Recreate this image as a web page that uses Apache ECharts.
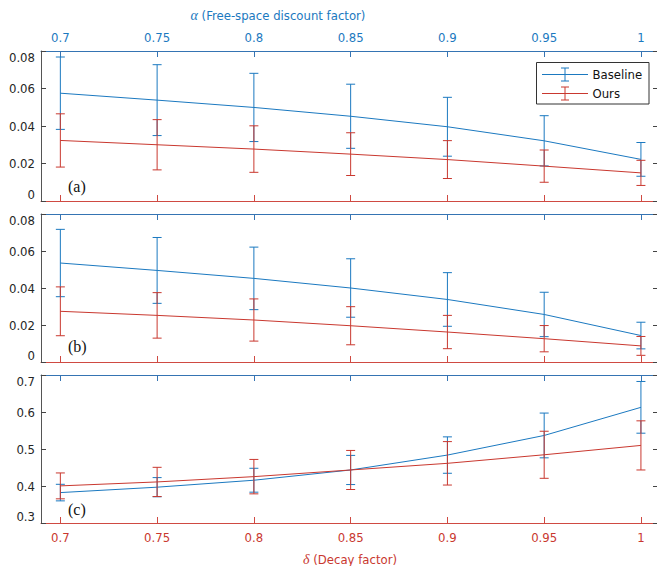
<!DOCTYPE html>
<html>
<head>
<meta charset="utf-8">
<script src="https://cdn.jsdelivr.net/npm/echarts@6/dist/echarts.min.js"></script>
<style>html,body{margin:0;padding:0;background:#fff}#c{width:657px;height:566px}</style>
</head>
<body>
<div id="c"></div>
<script>
// ---- data ----
var xValues = [0.7, 0.75, 0.8, 0.85, 0.9, 0.95, 1.0];
var xTicks = [0.7, 0.75, 0.8, 0.85, 0.9, 0.95, 1.0];
var seriesNames = ['Baseline', 'Ours'];
var panelLabels = ['(a)', '(b)', '(c)'];
var topTitle = '\u03b1 (Free-space discount factor)';
var bottomTitle = '\u03b4 (Decay factor)';

// panel (a)
var aBaseMean = [0.0575, 0.0538, 0.0499, 0.0452, 0.0396, 0.0321, 0.0222];
var aBaseErr  = [0.0193, 0.0189, 0.0182, 0.0171, 0.0157, 0.0134, 0.0090];
var aOursMean = [0.0323, 0.0300, 0.0277, 0.0250, 0.0221, 0.0186, 0.0150];
var aOursErr  = [0.0142, 0.0134, 0.0124, 0.0114, 0.0101, 0.0086, 0.0067];
// panel (b)
var bBaseMean = [0.0535, 0.0495, 0.0452, 0.0400, 0.0338, 0.0257, 0.0143];
var bBaseErr  = [0.0182, 0.0178, 0.0169, 0.0158, 0.0145, 0.0120, 0.0072];
var bOursMean = [0.0274, 0.0252, 0.0227, 0.0196, 0.0162, 0.0126, 0.0087];
var bOursErr  = [0.0132, 0.0123, 0.0114, 0.0103, 0.0090, 0.0071, 0.0051];
// panel (c)
var cBaseMean = [0.3822, 0.3968, 0.4156, 0.4433, 0.4836, 0.5366, 0.6126];
var cBaseErr  = [0.0224, 0.0259, 0.0323, 0.0394, 0.0492, 0.0605, 0.0699];
var cOursMean = [0.4003, 0.4110, 0.4253, 0.4433, 0.4613, 0.4844, 0.5097];
var cOursErr  = [0.0350, 0.0395, 0.0465, 0.0528, 0.0587, 0.0636, 0.0664];

var yMins = [0, 0, 0.3];
var yMaxs = [0.08, 0.08, 0.7];
var yIntervals = [0.02, 0.02, 0.1];

// ---- styling ----
var BLUE = '#1b79c0';
var RED = '#c9382f';
var AXBLUE = '#3574b3';
var AXRED = '#cf4a42';
var FONT = "'Liberation Sans Narrow','Arial Narrow','DejaVu Sans Condensed',sans-serif";
var SERIF = "'Liberation Serif','Times New Roman',serif";
var FS = 13;

var panels = [
  {base: aBaseMean, baseErr: aBaseErr, ours: aOursMean, oursErr: aOursErr},
  {base: bBaseMean, baseErr: bBaseErr, ours: bOursMean, oursErr: bOursErr},
  {base: cBaseMean, baseErr: cBaseErr, ours: cOursMean, oursErr: cOursErr}
];
var gridDefs = [
  {left: 41, right: 0, top: 51, height: 150},
  {left: 41, right: 0, top: 214, height: 148},
  {left: 41, right: 0, top: 375, height: 148}
];

function zipLine(m) { return xValues.map(function (x, i) { return [x, m[i]]; }); }
function zipErr(m, e) { return xValues.map(function (x, i) { return [x, m[i] - e[i], m[i] + e[i]]; }); }

function errRender(color) {
  return function (params, api) {
    var x = api.value(0), lo = api.value(1), hi = api.value(2);
    var pH = api.coord([x, hi]), pL = api.coord([x, lo]);
    var w = 4.5;
    var st = {stroke: color, lineWidth: 1, fill: null};
    return {type: 'group', children: [
      {type: 'line', shape: {x1: pH[0], y1: pH[1], x2: pL[0], y2: pL[1]}, style: st},
      {type: 'line', shape: {x1: pH[0] - w, y1: pH[1], x2: pH[0] + w, y2: pH[1]}, style: st},
      {type: 'line', shape: {x1: pL[0] - w, y1: pL[1], x2: pL[0] + w, y2: pL[1]}, style: st}
    ]};
  };
}

var xAxes = [], yAxes = [], series = [];
gridDefs.forEach(function (g, i) {
  xAxes.push({
    type: 'value', gridIndex: i, position: 'bottom', min: 0.69, max: 1.0083,
    axisLine: {show: true, onZero: false, lineStyle: {color: AXRED, width: 1}},
    axisTick: {show: true, inside: true, length: 6, customValues: xTicks, lineStyle: {color: AXRED}},
    axisLabel: {show: i === 2, customValues: xTicks, color: RED, fontSize: FS, fontFamily: FONT, margin: 8},
    splitLine: {show: false}
  });
  xAxes.push({
    type: 'value', gridIndex: i, position: 'top', min: 0.69, max: 1.0083,
    axisLine: {show: true, onZero: false, lineStyle: {color: AXBLUE, width: 1}},
    axisTick: {show: true, inside: true, length: 6, customValues: xTicks, lineStyle: {color: AXBLUE}},
    axisLabel: {show: i === 0, customValues: xTicks, color: BLUE, fontSize: FS, fontFamily: FONT, margin: 7},
    splitLine: {show: false}
  });
  yAxes.push({
    type: 'value', gridIndex: i, position: 'left', min: yMins[i], max: yMaxs[i], interval: yIntervals[i],
    axisLine: {show: true, lineStyle: {color: '#555', width: 1}},
    axisTick: {show: true, inside: true, length: 5, lineStyle: {color: '#444'}},
    axisLabel: {color: '#262626', fontSize: FS, fontFamily: FONT, margin: 6,
      verticalAlignMinLabel: 'bottom', verticalAlignMaxLabel: 'top'},
    splitLine: {show: false}
  });
  yAxes.push({
    type: 'value', gridIndex: i, position: 'right', min: yMins[i], max: yMaxs[i], interval: yIntervals[i],
    axisLine: {show: false},
    axisTick: {show: true, inside: true, length: 4, lineStyle: {color: '#444'}},
    axisLabel: {show: false},
    splitLine: {show: false}
  });
  var p = panels[i];
  series.push({
    name: seriesNames[0], type: 'line', xAxisIndex: 2 * i, yAxisIndex: 2 * i,
    data: zipLine(p.base), symbol: 'none', lineStyle: {color: BLUE, width: 1}, itemStyle: {color: BLUE}, z: 3
  });
  series.push({
    name: seriesNames[1], type: 'line', xAxisIndex: 2 * i, yAxisIndex: 2 * i,
    data: zipLine(p.ours), symbol: 'none', lineStyle: {color: RED, width: 1}, itemStyle: {color: RED}, z: 4
  });
  series.push({
    name: seriesNames[0] + ' err', type: 'custom', xAxisIndex: 2 * i, yAxisIndex: 2 * i,
    data: zipErr(p.base, p.baseErr), encode: {x: 0, y: [1, 2]}, renderItem: errRender(BLUE), z: 3, clip: false
  });
  series.push({
    name: seriesNames[1] + ' err', type: 'custom', xAxisIndex: 2 * i, yAxisIndex: 2 * i,
    data: zipErr(p.ours, p.oursErr), encode: {x: 0, y: [1, 2]}, renderItem: errRender(RED), z: 4, clip: false
  });
});

var legendLine = function (y, color) {
  var st = {stroke: color, lineWidth: 1};
  return [
    {type: 'line', shape: {x1: 542, y1: y, x2: 588, y2: y}, style: st, z: 101},
    {type: 'line', shape: {x1: 565, y1: y - 6.5, x2: 565, y2: y + 6.5}, style: st, z: 101},
    {type: 'line', shape: {x1: 561, y1: y - 6.5, x2: 569, y2: y - 6.5}, style: st, z: 101},
    {type: 'line', shape: {x1: 561, y1: y + 6.5, x2: 569, y2: y + 6.5}, style: st, z: 101}
  ];
};

var graphics = [
  {type: 'text', z: 100, style: {x: 278, y: 15, align: 'center', verticalAlign: 'middle',
    text: '{g|\u03b1} (Free-space discount factor)', fill: BLUE, font: FS + 'px ' + FONT,
    rich: {g: {fontFamily: SERIF, fontStyle: 'italic', fontSize: 14, fill: BLUE}}}},
  {type: 'text', z: 100, style: {x: 350, y: 559, align: 'center', verticalAlign: 'middle',
    text: '{g|\u03b4} (Decay factor)', fill: RED, font: FS + 'px ' + FONT,
    rich: {g: {fontFamily: SERIF, fontStyle: 'italic', fontSize: 14, fill: RED}}}},
  {type: 'text', z: 100, style: {x: 68, y: 186.5, verticalAlign: 'middle', text: panelLabels[0], fill: '#111', font: '16px ' + SERIF}},
  {type: 'text', z: 100, style: {x: 68, y: 346.5, verticalAlign: 'middle', text: panelLabels[1], fill: '#111', font: '16px ' + SERIF}},
  {type: 'text', z: 100, style: {x: 68, y: 509.5, verticalAlign: 'middle', text: panelLabels[2], fill: '#111', font: '16px ' + SERIF}},
  {type: 'rect', z: 100, shape: {x: 536.5, y: 62.5, width: 112.5, height: 41.5}, style: {fill: '#fff', stroke: '#333', lineWidth: 1}},
  {type: 'text', z: 101, style: {x: 592.5, y: 74.5, verticalAlign: 'middle', text: seriesNames[0], fill: '#111', font: FS + 'px ' + FONT}},
  {type: 'text', z: 101, style: {x: 592.5, y: 93.5, verticalAlign: 'middle', text: seriesNames[1], fill: '#111', font: FS + 'px ' + FONT}}
].concat(legendLine(74.5, BLUE)).concat(legendLine(93.5, RED));

var chart = echarts.init(document.getElementById('c'), null, {renderer: 'svg'});
chart.setOption({
  animation: false,
  backgroundColor: '#fff',
  grid: gridDefs,
  xAxis: xAxes,
  yAxis: yAxes,
  series: series,
  graphic: graphics
});
</script>
</body>
</html>
